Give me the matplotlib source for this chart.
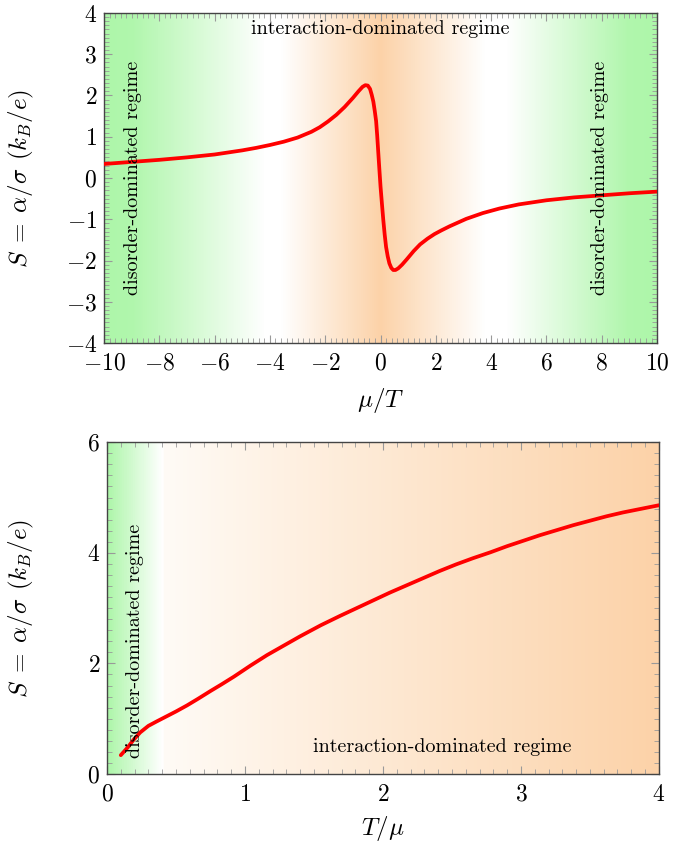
import numpy as np
import matplotlib
matplotlib.use("Agg")
import matplotlib.pyplot as plt
from matplotlib.colors import LinearSegmentedColormap
from matplotlib.ticker import MultipleLocator

plt.rcParams['font.family'] = ['cmr10']
plt.rcParams['mathtext.fontset'] = 'cm'
plt.rcParams['axes.formatter.use_mathtext'] = True
plt.rcParams['axes.unicode_minus'] = True

# ---- data: top panel S vs mu/T ----
mu_T = [-10, -9, -8, -7, -6, -5, -4.5, -4, -3.5, -3, -2.5, -2.2, -1.9, -1.6, -1.3,
        -1.0, -0.8, -0.65, -0.55, -0.46, -0.38, -0.32, -0.26, -0.21, -0.16, -0.12,
        -0.08, -0.04, 0.0, 0.05, 0.10, 0.15, 0.20, 0.26, 0.32, 0.39, 0.46, 0.54,
        0.64, 0.78, 0.95, 1.2, 1.43, 1.7, 1.95, 2.2, 2.5, 3.1, 3.7, 4.3, 5, 6, 7,
        8, 9, 10]
S_top = [0.34, 0.39, 0.44, 0.50, 0.57, 0.67, 0.73, 0.80, 0.88, 0.98, 1.12, 1.23,
         1.37, 1.53, 1.72, 1.94, 2.10, 2.21, 2.25, 2.24, 2.16, 2.02, 1.85, 1.63,
         1.38, 1.02, 0.60, 0.19, -0.21, -0.62, -1.02, -1.37, -1.67, -1.90, -2.07,
         -2.18, -2.23, -2.23, -2.19, -2.10, -1.97, -1.77, -1.61, -1.47, -1.36,
         -1.27, -1.17, -0.99, -0.85, -0.74, -0.64, -0.54, -0.47, -0.42, -0.37,
         -0.33]

# ---- data: bottom panel S vs T/mu ----
T_mu = [0.10, 0.15, 0.19, 0.24, 0.30, 0.36, 0.43, 0.50, 0.58, 0.66, 0.75, 0.83,
        0.92, 1.04, 1.16, 1.28, 1.40, 1.55, 1.69, 1.81, 1.93, 2.05, 2.17, 2.29,
        2.41, 2.53, 2.65, 2.78, 2.90, 3.02, 3.14, 3.26, 3.38, 3.50, 3.62, 3.74,
        3.86, 4.00]
S_bot = [0.34, 0.48, 0.61, 0.75, 0.87, 0.95, 1.04, 1.13, 1.24, 1.36, 1.50, 1.62,
         1.76, 1.96, 2.15, 2.32, 2.49, 2.69, 2.86, 3.00, 3.14, 3.28, 3.41, 3.54,
         3.67, 3.79, 3.90, 4.01, 4.12, 4.22, 4.32, 4.41, 4.50, 4.58, 4.66, 4.73,
         4.79, 4.86]

xticks_top = [-10, -8, -6, -4, -2, 0, 2, 4, 6, 8, 10]
yticks_top = [-4, -3, -2, -1, 0, 1, 2, 3, 4]
xticks_bot = [0, 1, 2, 3, 4]
yticks_bot = [0, 2, 4, 6]

GREEN = np.array([174, 246, 170]) / 255
WHITE = np.array([255, 255, 255]) / 255
ORANGE = np.array([252, 210, 168]) / 255
LIGHTOR = np.array([255, 251, 246]) / 255

fig = plt.figure(figsize=(6.89, 8.42), dpi=100)

def style(ax, xmin, ymin):
    ax.xaxis.set_minor_locator(MultipleLocator(xmin))
    ax.yaxis.set_minor_locator(MultipleLocator(ymin))
    ax.tick_params(which='both', direction='in', top=True, right=True,
                   color='#999999', labelsize=17, pad=5)
    ax.tick_params(axis='x', which='both', pad=7)
    ax.tick_params(which='major', length=6, width=0.8)
    ax.tick_params(which='minor', length=3.5, width=0.6)
    for s in ax.spines.values():
        s.set_color('#444444')
        s.set_linewidth(1.0)

YLAB = r'$S\;=\;\alpha/\sigma\;\,(k_B/e)$'
TFS = 14.5

# ---- top panel ----
ax1 = fig.add_axes([0.151, 0.5926, 0.8026, 0.392])
cmap1 = LinearSegmentedColormap.from_list('top', [
    (0.0, GREEN), (0.05, GREEN * 0.97 + WHITE * 0.03), (0.29, WHITE), (0.32, WHITE),
    (0.5, ORANGE), (0.69, WHITE), (0.73, WHITE), (0.95, GREEN * 0.97 + WHITE * 0.03),
    (1.0, GREEN)])
grad = np.linspace(0, 1, 512).reshape(1, -1)
ax1.imshow(grad, cmap=cmap1, extent=[-10, 10, -4, 4], aspect='auto', zorder=0,
           interpolation='bilinear')
ax1.plot(mu_T, S_top, color='red', lw=2.7, zorder=3, solid_capstyle='round',
         solid_joinstyle='round')
ax1.set_xlim(-10, 10)
ax1.set_ylim(-4, 4)
ax1.set_xticks(xticks_top)
ax1.set_yticks(yticks_top)
style(ax1, 0.2, 0.1)
ax1.set_xlabel(r'$\mu/T$', fontsize=18, labelpad=8)
ax1.set_ylabel(YLAB, fontsize=18)
ax1.yaxis.set_label_coords(-0.123, 0.5)
ax1.text(0.0, 3.62, 'interaction-dominated regime', ha='center', va='center',
         fontsize=TFS, zorder=4)
ax1.text(-8.95, 0.0, 'disorder-dominated regime', rotation=90, ha='center',
         va='center', fontsize=TFS, zorder=4)
ax1.text(7.95, 0.0, 'disorder-dominated regime', rotation=90, ha='center',
         va='center', fontsize=TFS, zorder=4)

# ---- bottom panel ----
ax2 = fig.add_axes([0.1553, 0.0808, 0.801, 0.394])
cmap2 = LinearSegmentedColormap.from_list('bot', [
    (0.0, GREEN), (0.098, WHITE), (0.1, LIGHTOR), (1.0, ORANGE)])
ax2.imshow(np.linspace(0, 1, 800).reshape(1, -1), cmap=cmap2,
           extent=[0, 4, 0, 6], aspect='auto', zorder=0, interpolation='bilinear')
ax2.plot(T_mu, S_bot, color='red', lw=2.7, zorder=3, solid_capstyle='round',
         solid_joinstyle='round')
ax2.set_xlim(0, 4)
ax2.set_ylim(0, 6)
ax2.set_xticks(xticks_bot)
ax2.set_yticks(yticks_bot)
style(ax2, 0.1, 0.2)
ax2.set_xlabel(r'$T/\mu$', fontsize=18, labelpad=6)
ax2.set_ylabel(YLAB, fontsize=18)
ax2.yaxis.set_label_coords(-0.129, 0.5)
ax2.text(2.43, 0.48, 'interaction-dominated regime', ha='center', va='center',
         fontsize=TFS, zorder=4)
ax2.text(0.2, 2.4, 'disorder-dominated regime', rotation=90, ha='center',
         va='center', fontsize=TFS, zorder=4)

fig.savefig('out.png', dpi=100)
